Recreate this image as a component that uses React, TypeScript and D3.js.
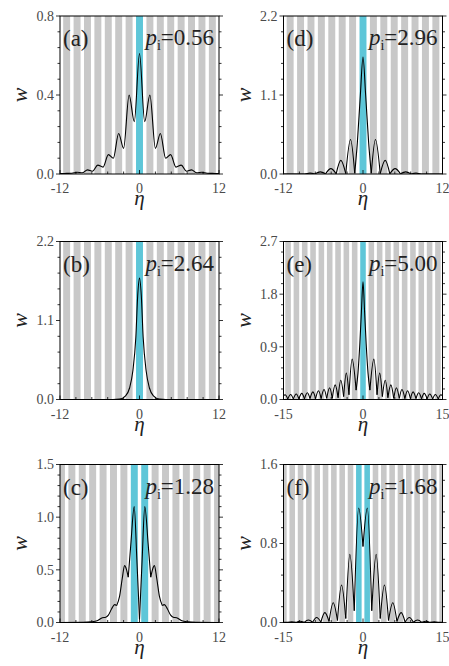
import React, { useEffect, useRef } from "react";
import * as d3 from "d3";

// panel texts
const panelLetters = ["a", "b", "c", "d", "e", "f"];
const pValues = ["0.56", "2.64", "1.28", "2.96", "5.00", "1.68"];

// axis ranges / ticks
const xMaxes = [12, 12, 12, 12, 15, 15];
const xMinorSteps = [2.4, 2.4, 2.4, 2.4, 3, 3];
const yTickSets = [
  [0, 0.4, 0.8],
  [0, 1.1, 2.2],
  [0, 0.5, 1.0, 1.5],
  [0, 1.1, 2.2],
  [0, 0.9, 1.8, 2.7],
  [0, 0.8, 1.6],
];

// lattice stripes: shifted by a quarter period in (c) and (f)
const latticePeriod = Math.PI / 2;
const stripeWidth = 1.05;
const stripeShift = [0, 0, Math.PI / 4, 0, 0, Math.PI / 4];

// profiles w(eta)
const curveA: [number, number][] = [
  [-12, 0.002], [-11, 0.003], [-10.2, 0.004], [-9.4, 0.009], [-8.65, 0.006],
  [-7.85, 0.021], [-7.1, 0.014], [-6.3, 0.045], [-5.5, 0.035], [-4.7, 0.098],
  [-3.95, 0.08], [-3.15, 0.205], [-2.4, 0.13], [-1.57, 0.4], [-0.78, 0.265],
  [0, 0.61],
  [0.78, 0.265], [1.57, 0.4], [2.4, 0.13], [3.15, 0.205], [3.95, 0.08],
  [4.7, 0.098], [5.5, 0.035], [6.3, 0.045], [7.1, 0.014], [7.85, 0.021],
  [8.65, 0.006], [9.4, 0.009], [10.2, 0.004], [11, 0.003], [12, 0.002],
];
const curveB: [number, number][] = [
  [-12, 0], [-4, 0], [-3, 0.005], [-2.1, 0.05], [-1.5, 0.16], [-1.0, 0.4],
  [-0.55, 0.87], [-0.27, 1.45], [0, 1.69], [0.27, 1.45], [0.55, 0.87],
  [1.0, 0.4], [1.5, 0.16], [2.1, 0.05], [3, 0.005], [4, 0], [12, 0],
];
const curveC: [number, number][] = [
  [-12, 0], [-8.5, 0.001], [-7.3, 0.006], [-6.4, 0.016], [-5.6, 0.045],
  [-5.1, 0.05], [-4.7, 0.07], [-4.2, 0.13], [-3.75, 0.17], [-3.45, 0.16],
  [-3.0, 0.25], [-2.6, 0.42], [-2.25, 0.54], [-1.95, 0.5], [-1.7, 0.43],
  [-1.3, 0.75], [-0.8, 1.1], [-0.4, 0.6], [0, 0.03],
  [0.4, 0.6], [0.8, 1.1], [1.3, 0.75], [1.7, 0.43], [1.95, 0.5], [2.25, 0.54],
  [2.6, 0.42], [3.0, 0.25], [3.45, 0.16], [3.75, 0.17], [4.2, 0.13],
  [4.7, 0.07], [5.1, 0.05], [5.6, 0.045], [6.4, 0.016], [7.3, 0.006],
  [8.5, 0.001], [12, 0],
];
const curveD: [number, number][] = [
  [-12, 0], [-8.8, 0], [-8.0, 0.012], [-7.25, 0.001], [-6.45, 0.03],
  [-5.65, 0.002], [-4.85, 0.075], [-4.05, 0.003], [-3.35, 0.19], [-2.6, 0.005],
  [-1.88, 0.48], [-1.25, 0.01], [-0.85, 0.44], [-0.4, 1.1], [0, 1.63],
  [0.4, 1.1], [0.85, 0.44], [1.25, 0.01], [1.88, 0.48], [2.6, 0.005],
  [3.35, 0.19], [4.05, 0.003], [4.85, 0.075], [5.65, 0.002], [6.45, 0.03],
  [7.25, 0.001], [8.0, 0.012], [8.8, 0], [12, 0],
];
const curveE: [number, number][] = [
  [-15, 0.06], [-14.7, 0.08], [-14.2, 0.01], [-13.65, 0.085], [-13.15, 0.01],
  [-12.6, 0.095], [-12.1, 0.012], [-11.55, 0.105], [-11.05, 0.012],
  [-10.5, 0.115], [-10.0, 0.014], [-9.45, 0.13], [-8.95, 0.015], [-8.4, 0.15],
  [-7.9, 0.016], [-7.35, 0.17], [-6.85, 0.018], [-6.3, 0.2], [-5.8, 0.02],
  [-5.25, 0.25], [-4.7, 0.03], [-4.2, 0.33], [-3.65, 0.05], [-3.15, 0.45],
  [-2.65, 0.08], [-2.05, 0.69], [-1.3, 0.16], [-0.95, 0.45], [-0.6, 0.95],
  [-0.3, 1.5], [0, 2.01], [0.3, 1.5], [0.6, 0.95], [0.95, 0.45], [1.3, 0.16],
  [2.05, 0.69], [2.65, 0.08], [3.15, 0.45], [3.65, 0.05], [4.2, 0.33],
  [4.7, 0.03], [5.25, 0.25], [5.8, 0.02], [6.3, 0.2], [6.85, 0.018],
  [7.35, 0.17], [7.9, 0.016], [8.4, 0.15], [8.95, 0.015], [9.45, 0.13],
  [10.0, 0.014], [10.5, 0.115], [11.05, 0.012], [11.55, 0.105], [12.1, 0.012],
  [12.6, 0.095], [13.15, 0.01], [13.65, 0.085], [14.2, 0.01], [14.7, 0.08],
  [15, 0.06],
];
const curveF: [number, number][] = [
  [-15, 0.003], [-14.2, 0.001], [-13.45, 0.006], [-12.65, 0.001],
  [-11.9, 0.013], [-11.1, 0.002], [-10.3, 0.026], [-9.5, 0.003],
  [-8.75, 0.05], [-7.95, 0.005], [-7.2, 0.1], [-6.4, 0.01], [-5.62, 0.2],
  [-4.82, 0.02], [-4.05, 0.38], [-3.25, 0.04], [-2.48, 0.69], [-1.65, 0.12],
  [-0.82, 1.16], [0, 0.77], [0.82, 1.16], [1.65, 0.12], [2.48, 0.69],
  [3.25, 0.04], [4.05, 0.38], [4.82, 0.02], [5.62, 0.2], [6.4, 0.01],
  [7.2, 0.1], [7.95, 0.005], [8.75, 0.05], [9.5, 0.003], [10.3, 0.026],
  [11.1, 0.002], [11.9, 0.013], [12.65, 0.001], [13.45, 0.006],
  [14.2, 0.001], [15, 0.003],
];
const curves = [curveA, curveB, curveC, curveD, curveE, curveF];
// whether minima are sharp cusps
const cuspy = [false, false, true, true, true, true];

const splitAtMinima = (pts: [number, number][]) => {
  const segs: [number, number][][] = [];
  let cur: [number, number][] = [pts[0]];
  for (let i = 1; i < pts.length; i++) {
    cur.push(pts[i]);
    if (i < pts.length - 1 && pts[i][1] < pts[i - 1][1] && pts[i][1] < pts[i + 1][1]) {
      segs.push(cur);
      cur = [pts[i]];
    }
  }
  segs.push(cur);
  return segs;
};

const App = () => {
  const ref = useRef<HTMLDivElement>(null);

  useEffect(() => {
    const width = 449;
    const height = 666;
    const colLeft = [60, 283.5];
    const rowTop = [16, 241.5, 464.5];
    const plotW = 159;
    const plotH = 158;
    const serif = "Liberation Serif";

    d3.select(ref.current).selectAll("*").remove();
    const svg = d3
      .select(ref.current)
      .append("svg")
      .attr("width", width)
      .attr("height", height)
      .attr("style", "position:absolute;left:0;top:0;background:#fff");

    panelLetters.forEach((letter, i) => {
      const col = i < 3 ? 0 : 1;
      const row = i % 3;
      const left = colLeft[col];
      const top = rowTop[row];
      const xm = xMaxes[i];
      const yt = yTickSets[i];
      const yMax = yt[yt.length - 1];

      const x = d3.scaleLinear().domain([-xm, xm]).range([left, left + plotW]);
      const y = d3.scaleLinear().domain([0, yMax]).range([top + plotH, top]);

      const g = svg.append("g");
      const clipId = `clip-${letter}`;
      g.append("clipPath")
        .attr("id", clipId)
        .append("rect")
        .attr("x", left)
        .attr("y", top)
        .attr("width", plotW)
        .attr("height", plotH);

      const inner = g.append("g").attr("clip-path", `url(#${clipId})`);

      // stripes
      const centers = d3
        .range(-12, 13)
        .map((k) => stripeShift[i] + k * latticePeriod)
        .filter((c) => Math.abs(c) < xm + 1);
      inner
        .selectAll("rect.stripe")
        .data(centers)
        .join("rect")
        .attr("class", "stripe")
        .attr("x", (c) => x(c - stripeWidth / 2))
        .attr("width", x(stripeWidth) - x(0))
        .attr("y", top)
        .attr("height", plotH)
        .attr("fill", (c) => (Math.abs(c) < 1 ? "#5ec6d8" : "#c8c8c8"));

      // curve
      const line = d3
        .line<[number, number]>()
        .x((d) => x(d[0]))
        .y((d) => y(d[1]))
        .curve(d3.curveMonotoneX);
      const segs = cuspy[i] ? splitAtMinima(curves[i]) : [curves[i]];
      inner
        .selectAll("path.curve")
        .data(segs)
        .join("path")
        .attr("class", "curve")
        .attr("d", (s) => line(s))
        .attr("fill", "none")
        .attr("stroke", "#000")
        .attr("stroke-width", 1.1)
        .attr("stroke-linejoin", "round");

      // frame
      g.append("rect")
        .attr("x", left)
        .attr("y", top)
        .attr("width", plotW)
        .attr("height", plotH)
        .attr("fill", "none")
        .attr("stroke", "#000")
        .attr("stroke-width", 1);

      // y ticks (left and right, outward)
      const yStep = yt[1] - yt[0];
      const yMinor = d3.range(0, yMax + 1e-9, yStep / 5);
      const tickG = g.append("g").attr("stroke", "#000").attr("stroke-width", 0.8);
      yMinor.forEach((v, j) => {
        const len = j % 5 === 0 ? 4 : 2.5;
        tickG.append("line").attr("x1", left - len).attr("x2", left).attr("y1", y(v)).attr("y2", y(v));
        tickG
          .append("line")
          .attr("x1", left + plotW)
          .attr("x2", left + plotW + len)
          .attr("y1", y(v))
          .attr("y2", y(v));
      });
      // x ticks (bottom, inward)
      const xMinor = d3.range(-xm, xm + 1e-9, xMinorSteps[i]);
      xMinor.forEach((v) => {
        const len = Math.abs(v) % xm < 1e-6 ? 4 : 2.5;
        tickG
          .append("line")
          .attr("x1", x(v))
          .attr("x2", x(v))
          .attr("y1", top + plotH)
          .attr("y2", top + plotH - len);
      });

      // tick labels
      g.selectAll("text.ylab")
        .data(yt)
        .join("text")
        .attr("class", "ylab")
        .attr("x", left - 6)
        .attr("y", (v) => y(v))
        .attr("dy", "0.35em")
        .attr("text-anchor", "end")
        .attr("font-family", serif)
        .attr("font-size", 14)
        .attr("fill", "#4a4a4a")
        .text((v) => d3.format(".1f")(v));
      g.selectAll("text.xlab")
        .data([-xm, 0, xm])
        .join("text")
        .attr("class", "xlab")
        .attr("x", (v) => x(v))
        .attr("y", top + plotH + 19)
        .attr("text-anchor", "middle")
        .attr("font-family", serif)
        .attr("font-size", 14)
        .attr("fill", "#4a4a4a")
        .text((v) => String(v));

      // axis titles
      g.append("text")
        .attr("x", left + plotW / 2)
        .attr("y", top + plotH + 31)
        .attr("text-anchor", "middle")
        .attr("font-family", serif)
        .attr("font-style", "italic")
        .attr("font-size", 21)
        .attr("fill", "#222")
        .text("η");
      g.append("text")
        .attr("transform", `translate(${left - 33},${top + plotH / 2}) rotate(-90)`)
        .attr("text-anchor", "middle")
        .attr("font-family", serif)
        .attr("font-style", "italic")
        .attr("font-size", 22)
        .attr("fill", "#222")
        .text("w");

      // panel labels
      g.append("text")
        .attr("x", left + 3)
        .attr("y", top + 30)
        .attr("font-family", serif)
        .attr("font-size", 23)
        .attr("fill", "#222")
        .text(`(${letter})`);
      const pt = g
        .append("text")
        .attr("x", left + plotW - 5)
        .attr("y", top + 29)
        .attr("text-anchor", "end")
        .attr("font-family", serif)
        .attr("font-size", 23)
        .attr("fill", "#222");
      pt.append("tspan").attr("font-style", "italic").text("p");
      pt.append("tspan").attr("font-size", 14).attr("dy", 5).text("i");
      pt.append("tspan").attr("dy", -5).text(`=${pValues[i]}`);
    });
  }, []);

  return <div ref={ref}></div>;
};

export default App;
